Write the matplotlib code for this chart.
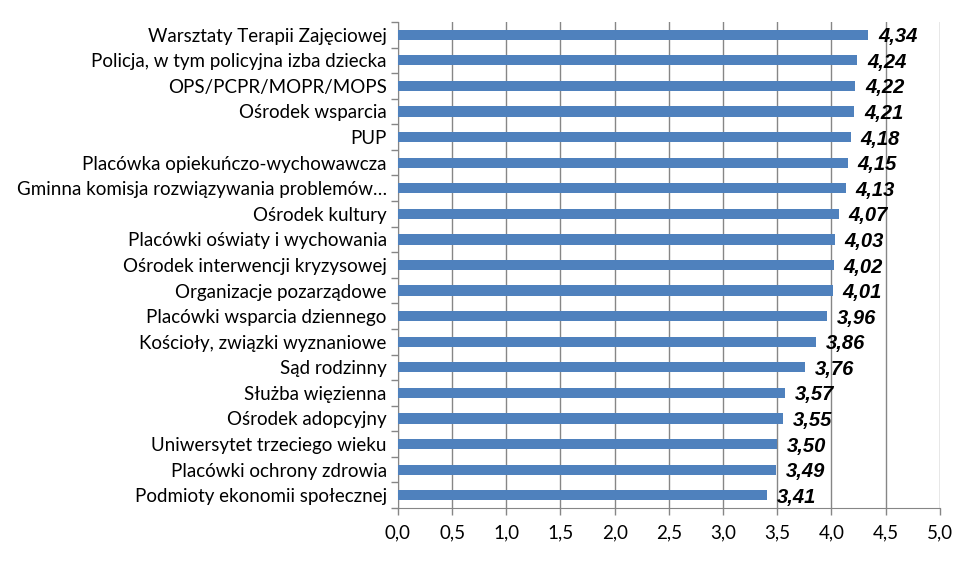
import matplotlib
matplotlib.use("Agg")
import matplotlib.pyplot as plt
import numpy as np
from matplotlib.ticker import FixedLocator

categories = [
    "Warsztaty Terapii Zajęciowej",
    "Policja, w tym policyjna izba dziecka",
    "OPS/PCPR/MOPR/MOPS",
    "Ośrodek wsparcia",
    "PUP",
    "Placówka opiekuńczo-wychowawcza",
    "Gminna komisja rozwiązywania problemów…",
    "Ośrodek kultury",
    "Placówki oświaty i wychowania",
    "Ośrodek interwencji kryzysowej",
    "Organizacje pozarządowe",
    "Placówki wsparcia dziennego",
    "Kościoły, związki wyznaniowe",
    "Sąd rodzinny",
    "Służba więzienna",
    "Ośrodek adopcyjny",
    "Uniwersytet trzeciego wieku",
    "Placówki ochrony zdrowia",
    "Podmioty ekonomii społecznej",
]
values = [4.34, 4.24, 4.22, 4.21, 4.18, 4.15, 4.13, 4.07, 4.03, 4.02, 4.01,
          3.96, 3.86, 3.76, 3.57, 3.55, 3.50, 3.49, 3.41]
xticks = [0, 0.5, 1.0, 1.5, 2.0, 2.5, 3.0, 3.5, 4.0, 4.5, 5.0]

fig = plt.figure(figsize=(9.8, 5.62), dpi=100)
ax = fig.add_axes([0.406, 0.096, 0.553, 0.865])

n = len(categories)
y = np.arange(n)
ax.barh(y, values, height=0.4, color="#4F81BD", zorder=3)
ax.set_ylim(n - 0.5, -0.5)
ax.set_xlim(0, 5)

ax.set_xticks(xticks)
ax.set_xticklabels([f"{t:.1f}".replace(".", ",") for t in xticks],
                   fontsize=13.5, family="Lato")
ax.set_yticks(y)
ax.set_yticklabels(categories, fontsize=13.5, family="Lato")
ax.yaxis.set_minor_locator(FixedLocator(np.arange(-0.5, n, 1.0)))
ax.tick_params(axis="y", which="major", length=0, pad=8)
ax.tick_params(axis="y", which="minor", length=5, color="#868686", width=1)
ax.tick_params(axis="x", which="major", length=5, color="#868686", width=1, pad=7)

ax.grid(axis="x", color="#868686", linewidth=1, zorder=0)
for s in ["top", "right"]:
    ax.spines[s].set_visible(False)
ax.spines["left"].set_color("#868686")
ax.spines["bottom"].set_color("#868686")

for yi, v in zip(y, values):
    ax.text(v + 0.09, yi + 0.08, f"{v:.2f}".replace(".", ","), va="center", ha="left",
            fontsize=14.5, fontweight="bold", fontstyle="italic",
            family="Liberation Sans", zorder=4)

fig.savefig("out.png", dpi=100)
